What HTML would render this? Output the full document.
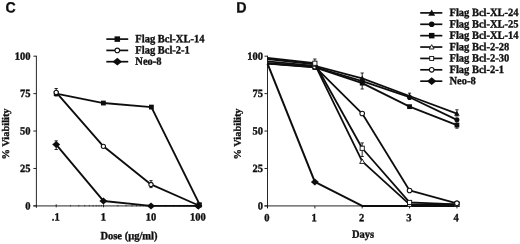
<!DOCTYPE html>
<html><head><meta charset="utf-8"><title>Figure</title>
<style>html,body{margin:0;padding:0;background:#fff}svg{display:block}</style>
</head><body>
<svg width="520" height="244" viewBox="0 0 520 244">
<defs><filter id="soft" x="0" y="0" width="520" height="244" filterUnits="userSpaceOnUse"><feGaussianBlur stdDeviation="0.35"/></filter></defs>
<rect width="520" height="244" fill="#fff"/>
<g filter="url(#soft)">
<g text-rendering="geometricPrecision" font-family="'Liberation Serif', 'Times New Roman', serif" font-weight="bold" font-size="10.5" fill="#111" stroke="#111" stroke-width="0.35">
<path d="M36.40 55.75V207.90" stroke="#111" stroke-width="0.9" fill="none"/>
<path d="M33.40 205.90H198.80" stroke="#111" stroke-width="0.9" fill="none"/>
<path d="M33.40 205.90H36.40" stroke="#111" stroke-width="0.9" fill="none"/>
<text transform="translate(30.40 209.40) rotate(0.1) scale(1 1.05)" text-anchor="end">0</text>
<path d="M33.40 168.47H36.40" stroke="#111" stroke-width="0.9" fill="none"/>
<text transform="translate(30.40 171.97) rotate(0.1) scale(1 1.05)" text-anchor="end">25</text>
<path d="M33.40 131.05H36.40" stroke="#111" stroke-width="0.9" fill="none"/>
<text transform="translate(30.40 134.55) rotate(0.1) scale(1 1.05)" text-anchor="end">50</text>
<path d="M33.40 93.62H36.40" stroke="#111" stroke-width="0.9" fill="none"/>
<text transform="translate(30.40 97.12) rotate(0.1) scale(1 1.05)" text-anchor="end">75</text>
<path d="M33.40 56.20H36.40" stroke="#111" stroke-width="0.9" fill="none"/>
<text transform="translate(30.40 59.70) rotate(0.1) scale(1 1.05)" text-anchor="end">100</text>
<path d="M56.20 204.30V207.30" stroke="#111" stroke-width="0.9" fill="none"/>
<path d="M70.46 204.90V206.50" stroke="#111" stroke-width="0.6"/>
<path d="M78.80 204.90V206.50" stroke="#111" stroke-width="0.6"/>
<path d="M84.72 204.90V206.50" stroke="#111" stroke-width="0.6"/>
<path d="M89.31 204.90V206.50" stroke="#111" stroke-width="0.6"/>
<path d="M93.06 204.90V206.50" stroke="#111" stroke-width="0.6"/>
<path d="M96.23 204.90V206.50" stroke="#111" stroke-width="0.6"/>
<path d="M98.98 204.90V206.50" stroke="#111" stroke-width="0.6"/>
<path d="M101.40 204.90V206.50" stroke="#111" stroke-width="0.6"/>
<path d="M103.57 204.30V207.30" stroke="#111" stroke-width="0.9" fill="none"/>
<path d="M117.83 204.90V206.50" stroke="#111" stroke-width="0.6"/>
<path d="M126.17 204.90V206.50" stroke="#111" stroke-width="0.6"/>
<path d="M132.08 204.90V206.50" stroke="#111" stroke-width="0.6"/>
<path d="M136.67 204.90V206.50" stroke="#111" stroke-width="0.6"/>
<path d="M140.43 204.90V206.50" stroke="#111" stroke-width="0.6"/>
<path d="M143.60 204.90V206.50" stroke="#111" stroke-width="0.6"/>
<path d="M146.34 204.90V206.50" stroke="#111" stroke-width="0.6"/>
<path d="M148.77 204.90V206.50" stroke="#111" stroke-width="0.6"/>
<path d="M150.93 204.30V207.30" stroke="#111" stroke-width="0.9" fill="none"/>
<path d="M165.19 204.90V206.50" stroke="#111" stroke-width="0.6"/>
<path d="M173.53 204.90V206.50" stroke="#111" stroke-width="0.6"/>
<path d="M179.45 204.90V206.50" stroke="#111" stroke-width="0.6"/>
<path d="M184.04 204.90V206.50" stroke="#111" stroke-width="0.6"/>
<path d="M187.79 204.90V206.50" stroke="#111" stroke-width="0.6"/>
<path d="M190.96 204.90V206.50" stroke="#111" stroke-width="0.6"/>
<path d="M193.71 204.90V206.50" stroke="#111" stroke-width="0.6"/>
<path d="M196.13 204.90V206.50" stroke="#111" stroke-width="0.6"/>
<path d="M198.30 204.30V207.30" stroke="#111" stroke-width="0.9" fill="none"/>
<text transform="translate(55.70 220.60) rotate(0.1) scale(1 1.05)" text-anchor="middle">.1</text>
<text transform="translate(103.40 220.60) rotate(0.1) scale(1 1.05)" text-anchor="middle">1</text>
<text transform="translate(151.00 220.60) rotate(0.1) scale(1 1.05)" text-anchor="middle">10</text>
<text transform="translate(197.90 220.60) rotate(0.1) scale(1 1.05)" text-anchor="middle">100</text>
<text transform="translate(129.00 239.30) rotate(0.1) scale(1 1.05)" text-anchor="middle">Dose (µg/ml)</text>
<text transform="translate(9.00 134.00) rotate(-89.9) scale(0.99 0.97)" text-anchor="middle">% Viability</text>
<path d="M56.20 140.80V149.50M54.60 140.80H57.80M54.60 149.50H57.80" stroke="#111" stroke-width="0.9" fill="none"/>
<path d="M56.20 88.50V96.00M54.60 88.50H57.80M54.60 96.00H57.80" stroke="#111" stroke-width="0.9" fill="none"/>
<path d="M151.00 180.60V187.60M149.40 180.60H152.60M149.40 187.60H152.60" stroke="#111" stroke-width="0.9" fill="none"/>
<polyline points="56.20,93.62 103.40,103.06 151.40,107.10 199.80,204.90" fill="none" stroke="#111" stroke-width="1.9" stroke-linejoin="round"/>
<polyline points="56.20,144.52 103.40,200.96 151.00,205.90 198.30,205.90" fill="none" stroke="#111" stroke-width="1.9" stroke-linejoin="round"/>
<polygon points="52.20,144.52 56.20,141.02 60.20,144.52 56.20,148.02" fill="#111" stroke="none"/>
<polygon points="99.40,200.96 103.40,197.46 107.40,200.96 103.40,204.46" fill="#111" stroke="none"/>
<polygon points="147.00,205.90 151.00,202.40 155.00,205.90 151.00,209.40" fill="#111" stroke="none"/>
<polygon points="194.30,205.90 198.30,202.40 202.30,205.90 198.30,209.40" fill="#111" stroke="none"/>
<rect x="53.80" y="91.22" width="4.80" height="4.80" fill="#111" stroke="none"/>
<rect x="101.00" y="100.66" width="4.80" height="4.80" fill="#111" stroke="none"/>
<rect x="149.00" y="104.70" width="4.80" height="4.80" fill="#111" stroke="none"/>
<rect x="196.80" y="202.50" width="4.80" height="4.80" fill="#111" stroke="none"/>
<polyline points="56.20,92.43 103.40,146.32 151.00,184.49 198.80,205.50" fill="none" stroke="#111" stroke-width="1.9" stroke-linejoin="round"/>
<circle cx="56.20" cy="92.43" r="2.12" fill="#fff" stroke="#111" stroke-width="1.05"/>
<circle cx="103.40" cy="146.32" r="2.12" fill="#fff" stroke="#111" stroke-width="1.05"/>
<circle cx="151.00" cy="184.49" r="2.12" fill="#fff" stroke="#111" stroke-width="1.05"/>
<polygon points="194.30,205.90 198.30,202.40 202.30,205.90 198.30,209.40" fill="#111" stroke="none"/>
<rect x="196.80" y="202.50" width="4.80" height="4.80" fill="#111" stroke="none"/>
<path d="M106.3 39.10H128.2" stroke="#111" stroke-width="1.7"/>
<rect x="114.54" y="36.34" width="5.52" height="5.52" fill="#111" stroke="none"/>
<text transform="translate(135.30 42.20) rotate(0.1) scale(1 1.05)" text-anchor="start">Flag Bcl-XL-14</text>
<path d="M106.3 50.40H128.2" stroke="#111" stroke-width="1.7"/>
<circle cx="117.30" cy="50.40" r="2.30" fill="#fff" stroke="#111" stroke-width="1.05"/>
<text transform="translate(135.30 53.50) rotate(0.1) scale(1 1.05)" text-anchor="start">Flag Bcl-2-1</text>
<path d="M106.3 61.70H128.2" stroke="#111" stroke-width="1.7"/>
<polygon points="112.60,61.70 117.30,57.78 122.00,61.70 117.30,65.62" fill="#111" stroke="none"/>
<text transform="translate(135.30 64.80) rotate(0.1) scale(1 1.05)" text-anchor="start">Neo-8</text>
<path d="M267.50 55.75V207.90" stroke="#111" stroke-width="0.9" fill="none"/>
<path d="M264.50 205.90H457.40" stroke="#111" stroke-width="0.9" fill="none"/>
<path d="M264.50 205.90H267.50" stroke="#111" stroke-width="0.9" fill="none"/>
<text transform="translate(262.90 209.40) rotate(0.1) scale(1 1.05)" text-anchor="end">0</text>
<path d="M264.50 168.47H267.50" stroke="#111" stroke-width="0.9" fill="none"/>
<text transform="translate(262.90 171.97) rotate(0.1) scale(1 1.05)" text-anchor="end">25</text>
<path d="M264.50 131.05H267.50" stroke="#111" stroke-width="0.9" fill="none"/>
<text transform="translate(262.90 134.55) rotate(0.1) scale(1 1.05)" text-anchor="end">50</text>
<path d="M264.50 93.62H267.50" stroke="#111" stroke-width="0.9" fill="none"/>
<text transform="translate(262.90 97.12) rotate(0.1) scale(1 1.05)" text-anchor="end">75</text>
<path d="M264.50 56.20H267.50" stroke="#111" stroke-width="0.9" fill="none"/>
<text transform="translate(262.90 59.70) rotate(0.1) scale(1 1.05)" text-anchor="end">100</text>
<path d="M267.50 205.90V208.40" stroke="#111" stroke-width="0.9" fill="none"/>
<text transform="translate(266.80 221.20) rotate(0.1) scale(1 1.05)" text-anchor="middle">0</text>
<path d="M314.85 205.90V208.40" stroke="#111" stroke-width="0.9" fill="none"/>
<text transform="translate(314.15 221.20) rotate(0.1) scale(1 1.05)" text-anchor="middle">1</text>
<path d="M362.20 205.90V208.40" stroke="#111" stroke-width="0.9" fill="none"/>
<text transform="translate(361.50 221.20) rotate(0.1) scale(1 1.05)" text-anchor="middle">2</text>
<path d="M409.55 205.90V208.40" stroke="#111" stroke-width="0.9" fill="none"/>
<text transform="translate(408.85 221.20) rotate(0.1) scale(1 1.05)" text-anchor="middle">3</text>
<path d="M456.90 205.90V208.40" stroke="#111" stroke-width="0.9" fill="none"/>
<text transform="translate(456.20 221.20) rotate(0.1) scale(1 1.05)" text-anchor="middle">4</text>
<text transform="translate(363.10 237.80) rotate(0.1) scale(1 1.05)" text-anchor="middle">Days</text>
<text transform="translate(240.80 134.00) rotate(-89.9) scale(0.99 0.97)" text-anchor="middle">% Viability</text>
<path d="M362.20 73.00V89.00M360.60 73.00H363.80M360.60 89.00H363.80" stroke="#111" stroke-width="0.9" fill="none"/>
<path d="M362.20 142.90V156.50M360.60 142.90H363.80M360.60 156.50H363.80" stroke="#111" stroke-width="0.9" fill="none"/>
<path d="M409.55 93.20V99.50M407.95 93.20H411.15M407.95 99.50H411.15" stroke="#111" stroke-width="0.9" fill="none"/>
<path d="M456.90 109.80V116.00M455.30 109.80H458.50M455.30 116.00H458.50" stroke="#111" stroke-width="0.9" fill="none"/>
<path d="M456.90 121.00V128.20M455.30 121.00H458.50M455.30 128.20H458.50" stroke="#111" stroke-width="0.9" fill="none"/>
<path d="M314.85 59.00V66.00M313.25 59.00H316.45M313.25 66.00H316.45" stroke="#111" stroke-width="0.9" fill="none"/>
<polyline points="267.50,63.69 314.85,181.95 362.20,205.90 409.55,205.90 456.90,205.90" fill="none" stroke="#111" stroke-width="2.0" stroke-linejoin="round"/>
<polygon points="310.85,181.95 314.85,178.45 318.85,181.95 314.85,185.45" fill="#111" stroke="none"/>
<polyline points="267.50,63.69 314.85,67.43 362.20,83.15 409.55,106.65 456.90,125.06" fill="none" stroke="#111" stroke-width="1.8" stroke-linejoin="round"/>
<rect x="312.45" y="65.03" width="4.80" height="4.80" fill="#111" stroke="none"/>
<rect x="359.80" y="80.75" width="4.80" height="4.80" fill="#111" stroke="none"/>
<rect x="407.15" y="104.25" width="4.80" height="4.80" fill="#111" stroke="none"/>
<rect x="454.50" y="122.66" width="4.80" height="4.80" fill="#111" stroke="none"/>
<polyline points="267.50,63.24 314.85,67.13 362.20,81.05 409.55,97.22 456.90,119.82" fill="none" stroke="#111" stroke-width="1.8" stroke-linejoin="round"/>
<circle cx="314.85" cy="67.13" r="2.52" fill="#111" stroke="none"/>
<circle cx="362.20" cy="81.05" r="2.52" fill="#111" stroke="none"/>
<circle cx="409.55" cy="97.22" r="2.52" fill="#111" stroke="none"/>
<circle cx="456.90" cy="119.82" r="2.52" fill="#111" stroke="none"/>
<polyline points="267.50,61.29 314.85,65.78 362.20,78.36 409.55,96.02 456.90,113.54" fill="none" stroke="#111" stroke-width="1.8" stroke-linejoin="round"/>
<polygon points="312.06,68.01 314.85,62.99 317.64,68.01" fill="#111" stroke="none"/>
<polygon points="359.41,80.59 362.20,75.57 364.99,80.59" fill="#111" stroke="none"/>
<polygon points="406.76,98.25 409.55,93.23 412.34,98.25" fill="#111" stroke="none"/>
<polygon points="454.11,115.77 456.90,110.75 459.69,115.77" fill="#111" stroke="none"/>
<polyline points="267.50,63.39 314.85,66.68 362.20,113.54 409.55,190.48 456.90,203.36" fill="none" stroke="#111" stroke-width="1.8" stroke-linejoin="round"/>
<circle cx="314.85" cy="66.68" r="2.30" fill="#fff" stroke="#111" stroke-width="1.05"/>
<circle cx="362.20" cy="113.54" r="2.30" fill="#fff" stroke="#111" stroke-width="1.05"/>
<circle cx="409.55" cy="190.48" r="2.30" fill="#fff" stroke="#111" stroke-width="1.05"/>
<circle cx="456.90" cy="203.36" r="2.30" fill="#fff" stroke="#111" stroke-width="1.05"/>
<polyline points="267.50,59.04 314.85,64.28 362.20,161.44 409.55,204.40 456.90,204.40" fill="none" stroke="#111" stroke-width="1.8" stroke-linejoin="round"/>
<polygon points="312.35,66.28 314.85,61.78 317.35,66.28" fill="#fff" stroke="#111" stroke-width="0.9"/>
<polygon points="359.70,163.44 362.20,158.94 364.70,163.44" fill="#fff" stroke="#111" stroke-width="0.9"/>
<polygon points="407.05,206.40 409.55,201.90 412.05,206.40" fill="#fff" stroke="#111" stroke-width="0.9"/>
<polygon points="454.40,206.40 456.90,201.90 459.40,206.40" fill="#fff" stroke="#111" stroke-width="0.9"/>
<polyline points="267.50,58.00 314.85,63.24 362.20,148.27 409.55,202.46 456.90,204.40" fill="none" stroke="#111" stroke-width="1.8" stroke-linejoin="round"/>
<rect x="312.75" y="61.14" width="4.20" height="4.20" fill="#fff" stroke="#111" stroke-width="0.9"/>
<rect x="360.10" y="146.17" width="4.20" height="4.20" fill="#fff" stroke="#111" stroke-width="0.9"/>
<rect x="407.45" y="200.36" width="4.20" height="4.20" fill="#fff" stroke="#111" stroke-width="0.9"/>
<rect x="454.80" y="202.30" width="4.20" height="4.20" fill="#fff" stroke="#111" stroke-width="0.9"/>
<circle cx="456.90" cy="203.36" r="2.30" fill="#fff" stroke="#111" stroke-width="1.05"/>
<path d="M420.2 12.90H442.3" stroke="#111" stroke-width="1.7"/>
<polygon points="428.29,15.63 431.70,9.49 435.11,15.63" fill="#111" stroke="none"/>
<text transform="translate(449.50 16.00) rotate(0.1) scale(1 1.05)" text-anchor="start">Flag Bcl-XL-24</text>
<path d="M420.2 24.28H442.3" stroke="#111" stroke-width="1.7"/>
<circle cx="431.70" cy="24.28" r="2.80" fill="#111" stroke="none"/>
<text transform="translate(449.50 27.38) rotate(0.1) scale(1 1.05)" text-anchor="start">Flag Bcl-XL-25</text>
<path d="M420.2 35.66H442.3" stroke="#111" stroke-width="1.7"/>
<rect x="428.94" y="32.90" width="5.52" height="5.52" fill="#111" stroke="none"/>
<text transform="translate(449.50 38.76) rotate(0.1) scale(1 1.05)" text-anchor="start">Flag Bcl-XL-14</text>
<path d="M420.2 47.04H442.3" stroke="#111" stroke-width="1.7"/>
<polygon points="429.32,48.94 431.70,44.66 434.07,48.94" fill="#fff" stroke="#111" stroke-width="0.9"/>
<text transform="translate(449.50 50.14) rotate(0.1) scale(1 1.05)" text-anchor="start">Flag Bcl-2-28</text>
<path d="M420.2 58.42H442.3" stroke="#111" stroke-width="1.7"/>
<rect x="429.70" y="56.43" width="3.99" height="3.99" fill="#fff" stroke="#111" stroke-width="0.9"/>
<text transform="translate(449.50 61.52) rotate(0.1) scale(1 1.05)" text-anchor="start">Flag Bcl-2-30</text>
<path d="M420.2 69.80H442.3" stroke="#111" stroke-width="1.7"/>
<circle cx="431.70" cy="69.80" r="2.30" fill="#fff" stroke="#111" stroke-width="1.05"/>
<text transform="translate(449.50 72.90) rotate(0.1) scale(1 1.05)" text-anchor="start">Flag Bcl-2-1</text>
<path d="M420.2 81.18H442.3" stroke="#111" stroke-width="1.7"/>
<polygon points="427.00,81.18 431.70,77.26 436.40,81.18 431.70,85.10" fill="#111" stroke="none"/>
<text transform="translate(449.50 84.28) rotate(0.1) scale(1 1.05)" text-anchor="start">Neo-8</text>
</g>
<g text-rendering="geometricPrecision" font-family="'Liberation Sans', Arial, sans-serif" font-weight="bold" font-size="15" fill="#111" stroke="#111" stroke-width="0.3">
<text transform="translate(5.50 12.60) rotate(0.1) scale(0.94 1)" text-anchor="start">C</text>
<text transform="translate(236.20 12.60) rotate(0.1) scale(0.95 1)" text-anchor="start">D</text>
</g>
</g>
</svg>
</body></html>
